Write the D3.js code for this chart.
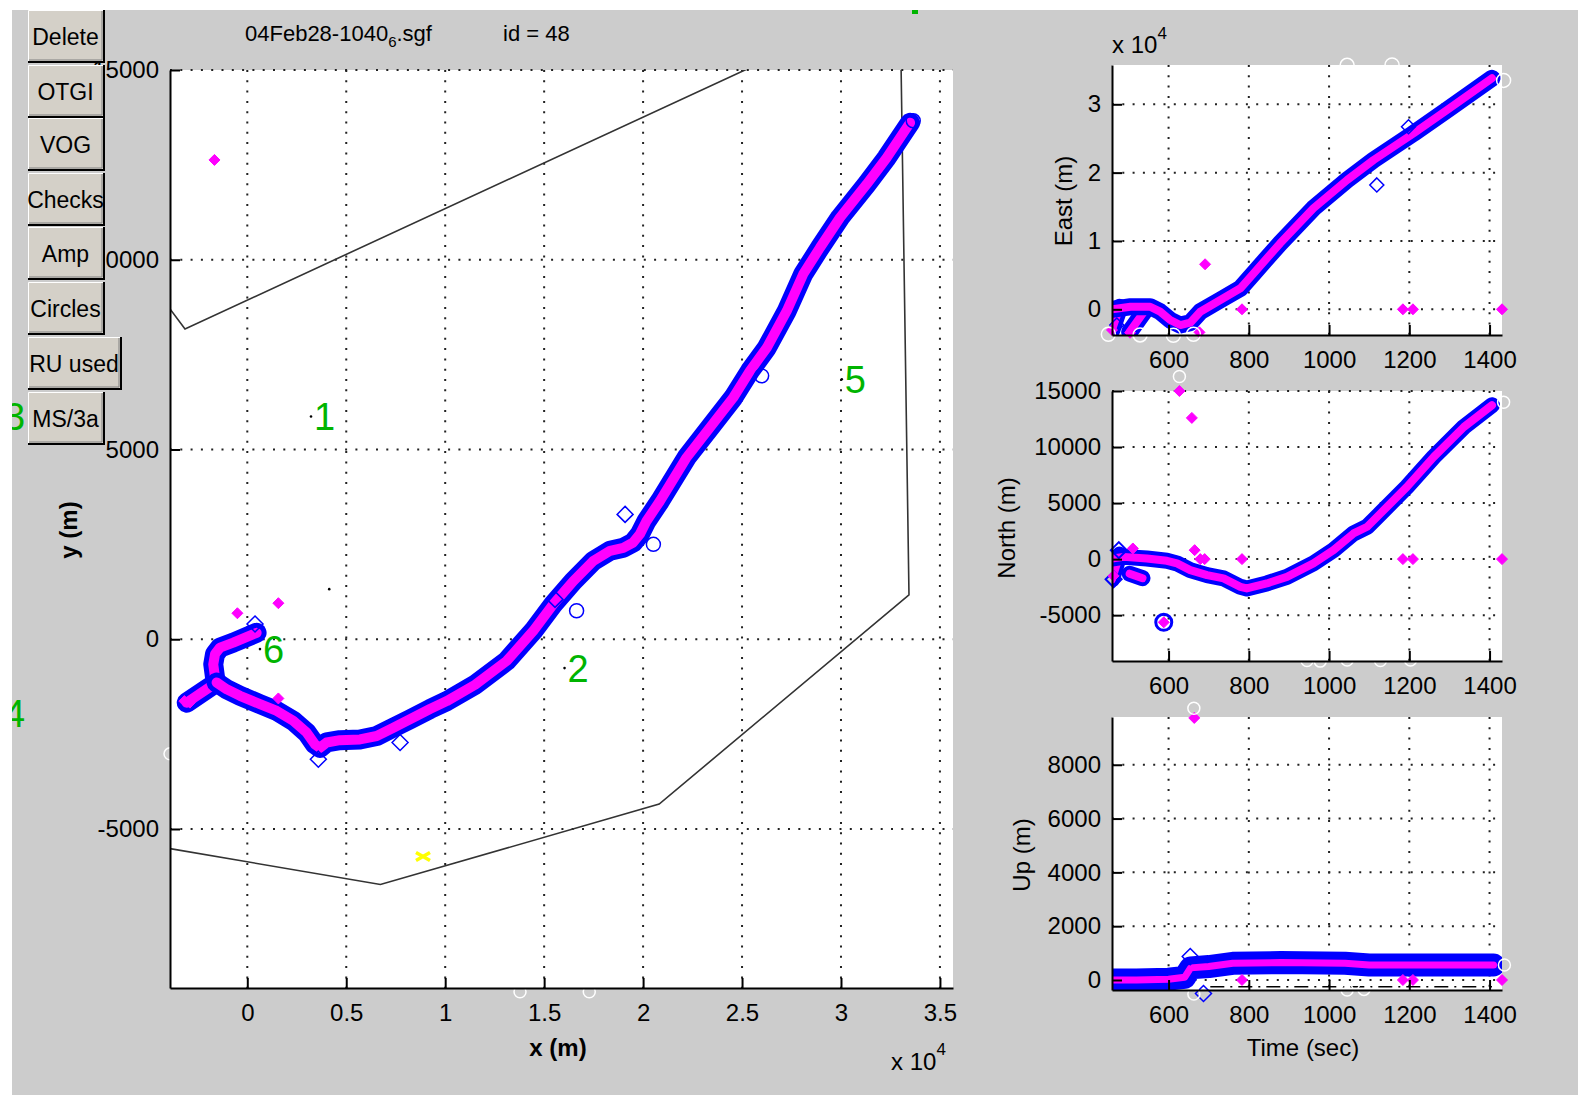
<!DOCTYPE html>
<html><head><meta charset="utf-8">
<script src="https://cdn.jsdelivr.net/npm/d3@7"></script>
<style>
body{margin:0;background:#fff;}
svg{display:block;}
text{font-family:"Liberation Sans",Arial,sans-serif;fill:#000;}
</style>
</head><body>
<svg id="fig" width="1578" height="1095"></svg>
<script>
// ---------------- DATA ----------------
const titleMain = "04Feb28-1040", titleSub = "6", titleExt = ".sgf", titleId = "id = 48";
const buttonLabels = ["Delete","OTGI","VOG","Checks","Amp","Circles","RU used","MS/3a"];

// main x-y map
const mainXTicks = [0,5000,10000,15000,20000,25000,30000,35000];
const mainXTickLabels = ["0","0.5","1","1.5","2","2.5","3","3.5"];
const mainYTicks = [-5000,0,5000,10000,15000];
const mainYTickLabels = ["-5000","0","5000","10000","15000"];

const trackEarlyX = [-3060,-1550,-1630,-1720,-1630,-1380,-710,470];
const trackEarlyY = [-1670,-1140,-1010,-660,-390,-220,-90,170];
const trackMainX = [-1550,-1040,-370,640,1490,2320,3000,3420,3670,4010,4680,5690,6540,7380,8220,9230,10080,11510,13110,14450,15460,16470,17480,18330,19000,19500,19840,20180,20850,22200,23380,24560,25400,26250,27260,28090,28940,29950,31300,32310,33490];
const trackMainY = [-1140,-1320,-1490,-1710,-1890,-2150,-2460,-2770,-2860,-2720,-2660,-2640,-2550,-2330,-2110,-1840,-1630,-1200,-570,220,920,1530,2060,2330,2410,2550,2770,3120,3640,4790,5580,6370,7070,7680,8650,9620,10320,11110,11990,12690,13610];

const boundaryX = [-3906,-3148,25150,27500,33010,33436,20813,6726,-3906];
const boundaryY = [8704,8177,15000,15570,16000,1167,-4343,-6464,-5517];

const mainMagentaX = [-1660,-500,1570,1570,-3180,-2900];
const mainMagentaY = [12630,685,950,-1560,-1630,-1670];
const mainBlueDiamondX = [19090,7720,15550,390,3590];
const mainBlueDiamondY = [3290,-2720,1050,400,-3160];
const mainBlueCircleX = [20520,16640,25990,33650];
const mainBlueCircleY = [2500,750,6940,13660];
const mainWhiteX = [-3906,13780,17280];
const mainWhiteY = [-3020,-9290,-9290];
const mainDotX = [3220,16030,30040,640,4140];
const mainDotY = [5870,-760,6850,-260,1320];
const yellowX = [8878], yellowY = [-5723];

const waypointLabels = ["1","2","3","4","5","6"];
const waypointX = [3220,16030,-12450,-12450,30040,640];
const waypointY = [5870,-760,5884,-1940,6850,-260];

// time panels
const timeTicks = [600,800,1000,1200,1400];
const eastTicks = [0,10000,20000,30000];
const eastTickLabels = ["0","1","2","3"];
const northTicks = [-5000,0,5000,10000,15000];
const upTicks = [0,2000,4000,6000,8000];

const timeE = [459,505,554,579,604,629,654,679,729,779,812,878,961,1045,1111,1211,1294,1406];
const eastVals = [0,380,380,-350,-1570,-2300,-1960,-350,1360,3070,5270,9660,14780,18920,21850,25760,29170,33810];
const timeE1 = [459,478], eastE1 = [-3000,300];
const timeE2 = [503,542], eastE2 = [-3300,-100];
const eastMagT = [691,783,1184,1209,1431,677,459,504];
const eastMagV = [6590,0,0,0,0,-3370,-3030,-3420];
const eastBlueT = [1198,1119,471];
const eastBlueV = [26720,18200,-2300];
const eastWhiteT = [1045,1157,1435,450,529,612,662];
const eastWhiteV = [35700,35750,33500,-3650,-3750,-3800,-3650];

const timeN = [459,488,546,596,621,654,696,737,779,795,845,895,961,1011,1061,1095,1128,1194,1261,1336,1406];
const northVals = [60,200,60,-150,-380,-980,-1430,-1720,-2470,-2620,-2170,-1580,-380,800,2290,2890,4070,6440,9120,11790,13730];
const timeN1 = [459,478], northN1 = [-1800,400];
const timeN2 = [503,535], northN2 = [-1300,-1700];
const northMagT = [627,658,511,665,679,690,783,1184,1209,1431,588,463];
const northMagV = [15000,12600,950,800,0,0,0,0,0,0,-5640,-1500];
const northBlueCircT = [588], northBlueCircV = [-5640];
const northBlueDiaT = [476,463], northBlueDiaV = [800,-1800];
const northWhiteT = [627,1435,945,978,1045,1128,1203];
const northWhiteV = [16300,14000,-9050,-9100,-9000,-9050,-9000];

const timeU = [459,520,600,640,655,700,760,880,1040,1100,1410];
const upVals = [0,0,30,100,450,500,620,650,620,560,560];
const upMagT = [664,783,1184,1209,1431];
const upMagV = [9740,0,0,0,0];
const upBlueT = [654,687], upBlueV = [870,-500];
const upWhiteT = [663,1437,1045,1087,663];
const upWhiteV = [10100,560,-370,-350,-520];
const upDashT = [704,1406], upDashV = [-250,-250];

// ---------------- DRAW ----------------
const W = 1578, H = 1095;
const svg = d3.select("#fig");
const defs = svg.append("defs");
defs.append("clipPath").attr("id","figclip").append("rect")
  .attr("x",12).attr("y",10).attr("width",W-12).attr("height",H-10);
svg.append("rect").attr("width",W).attr("height",H).attr("fill","#fff");
const fig = svg.append("g").attr("clip-path","url(#figclip)");
fig.append("rect").attr("x",12).attr("y",10).attr("width",W-12).attr("height",H-10).attr("fill","#cccccc");

const diamondPath = r => `M0,${-r}L${r},0L0,${r}L${-r},0Z`;
let clipCount = 0;

function makeAxes(c){
  const x = d3.scaleLinear().domain(c.xDomain).range([c.left,c.right]);
  const y = d3.scaleLinear().domain(c.yDomain).range([c.bottom,c.top]);
  const g = fig.append("g");
  g.append("rect").attr("x",c.left).attr("y",c.top).attr("width",c.right-c.left)
    .attr("height",c.bottom-c.top).attr("fill","#fff");
  const grid = g.append("g").attr("stroke","#222").attr("stroke-width",2)
    .attr("stroke-dasharray","2,8.3");
  grid.selectAll(".gx").data(c.xTicks).join("line")
    .attr("x1",d=>x(d)).attr("x2",d=>x(d)).attr("y1",c.top).attr("y2",c.bottom);
  grid.selectAll(".gy").data(c.yTicks).join("line")
    .attr("y1",d=>y(d)).attr("y2",d=>y(d)).attr("x1",c.left).attr("x2",c.right);
  const id = "pc"+(clipCount++);
  defs.append("clipPath").attr("id",id).append("rect")
    .attr("x",c.left).attr("y",c.top).attr("width",c.right-c.left).attr("height",c.bottom-c.top);
  const data = g.append("g").attr("clip-path",`url(#${id})`);
  const marks = g.append("g");
  const ax = g.append("g");
  const xa = ax.append("g").attr("transform",`translate(0,${c.bottom})`)
    .call(d3.axisBottom(x).tickValues(c.xTicks).tickFormat((d,i)=>c.xLabels[i])
      .tickSizeInner(-10).tickSizeOuter(0).tickPadding(16));
  const ya = ax.append("g").attr("transform",`translate(${c.left},0)`)
    .call(d3.axisLeft(y).tickValues(c.yTicks).tickFormat((d,i)=>c.yLabels[i])
      .tickSizeInner(-10).tickSizeOuter(0).tickPadding(11));
  [xa,ya].forEach(a=>{
    a.select(".domain").attr("stroke","#000").attr("stroke-width",2);
    a.selectAll(".tick line").attr("stroke","#000").attr("stroke-width",2);
    a.selectAll(".tick text").attr("font-size",24).attr("fill","#000")
      .attr("font-family","Liberation Sans, Arial, sans-serif");
  });
  return {x,y,data,marks,ax};
}

function band(P, xs, ys, wBlue, wMag){
  const pts = d3.zip(xs, ys);
  const line = d3.line().x(d=>P.x(d[0])).y(d=>P.y(d[1]));
  P.data.append("path").attr("d",line(pts)).attr("fill","none").attr("stroke","#0000ff")
    .attr("stroke-width",wBlue).attr("stroke-linejoin","round").attr("stroke-linecap","round");
  P.data.append("path").attr("d",line(pts)).attr("fill","none").attr("stroke","#ff00ff")
    .attr("stroke-width",wMag).attr("stroke-linejoin","round").attr("stroke-linecap","round");
}
function diamonds(P, xs, ys, r, fill, stroke, sw){
  P.marks.append("g").selectAll("path").data(d3.zip(xs,ys)).join("path")
    .attr("d",diamondPath(r)).attr("transform",d=>`translate(${P.x(d[0])},${P.y(d[1])})`)
    .attr("fill",fill).attr("stroke",stroke).attr("stroke-width",sw||1.5);
}
function circles(P, xs, ys, r, stroke, sw){
  P.marks.append("g").selectAll("circle").data(d3.zip(xs,ys)).join("circle")
    .attr("cx",d=>P.x(d[0])).attr("cy",d=>P.y(d[1])).attr("r",r)
    .attr("fill","none").attr("stroke",stroke).attr("stroke-width",sw||1.5);
}

// ---- main map ----
const M = makeAxes({left:170,top:70,right:953,bottom:988,
  xDomain:[-3906,35660], yDomain:[-9190,15000],
  xTicks:mainXTicks, xLabels:mainXTickLabels, yTicks:mainYTicks, yLabels:mainYTickLabels});
M.data.append("path").attr("d",d3.line().x(d=>M.x(d[0])).y(d=>M.y(d[1]))(d3.zip(boundaryX,boundaryY)))
  .attr("fill","none").attr("stroke","#333").attr("stroke-width",1.6);
band(M, trackEarlyX, trackEarlyY, 20, 10);
band(M, trackMainX, trackMainY, 20, 10);
diamonds(M, mainBlueDiamondX, mainBlueDiamondY, 8, "none", "#0000ff", 1.5);
circles(M, mainBlueCircleX, mainBlueCircleY, 7, "#0000ff", 1.5);
diamonds(M, mainMagentaX, mainMagentaY, 5.5, "#ff00ff", "#ff00ff", 1);
M.marks.append("g").selectAll("circle").data(d3.zip(mainDotX,mainDotY)).join("circle")
  .attr("cx",d=>M.x(d[0])).attr("cy",d=>M.y(d[1])).attr("r",1.3).attr("fill","#000");
circles(M, mainWhiteX, mainWhiteY, 6, "#fff", 1.5);
// yellow x marker
M.marks.append("g").selectAll("path").data(d3.zip(yellowX,yellowY)).join("path")
  .attr("transform",d=>`translate(${M.x(d[0])},${M.y(d[1])})`)
  .attr("d","M-7,-4L7,4M-7,4L7,-4").attr("stroke","#ffff00").attr("stroke-width",3.5);
// waypoint labels
fig.append("g").selectAll("text").data(waypointLabels).join("text")
  .attr("x",(d,i)=>M.x(waypointX[i])+3).attr("y",(d,i)=>M.y(waypointY[i]))
  .attr("dy","0.36em").attr("font-size",38).style("fill","#00b400").text(d=>d);
// tiny clipped green mark at top
fig.append("rect").attr("x",912).attr("y",10).attr("width",6).attr("height",4).attr("fill","#00b400");

// main axis labels
fig.append("text").attr("x",558).attr("y",1056).attr("text-anchor","middle")
  .attr("font-size",24).attr("font-weight","bold").text("x (m)");
fig.append("text").attr("transform","translate(77,530) rotate(-90)").attr("text-anchor","middle")
  .attr("font-size",24).attr("font-weight","bold").text("y (m)");
const mx = fig.append("text").attr("x",891).attr("y",1070).attr("font-size",24);
mx.append("tspan").text("x 10");
mx.append("tspan").attr("dy",-15).attr("font-size",17).text("4");

// ---- right panels ----
const PL = 1112, PR = 1502;
const E = makeAxes({left:PL,top:65,right:PR,bottom:335, xDomain:[459,1431], yDomain:[-3760,35750],
  xTicks:timeTicks, xLabels:timeTicks.map(String), yTicks:eastTicks, yLabels:eastTickLabels});
band(E, timeE1, eastE1, 17, 8);
band(E, timeE2, eastE2, 17, 8);
band(E, timeE, eastVals, 17, 8);
diamonds(E, eastBlueT, eastBlueV, 7, "none", "#0000ff", 1.5);
diamonds(E, eastMagT, eastMagV, 5.5, "#ff00ff", "#ff00ff", 1);
circles(E, eastWhiteT, eastWhiteV, 7, "#fff", 1.5);
const ex = fig.append("text").attr("x",1112).attr("y",53).attr("font-size",24);
ex.append("tspan").text("x 10");
ex.append("tspan").attr("dy",-14).attr("font-size",17).text("4");
fig.append("text").attr("transform","translate(1072,201) rotate(-90)").attr("text-anchor","middle")
  .attr("font-size",24).text("East (m)");

const N = makeAxes({left:PL,top:391,right:PR,bottom:661, xDomain:[459,1431], yDomain:[-9090,15000],
  xTicks:timeTicks, xLabels:timeTicks.map(String), yTicks:northTicks, yLabels:northTicks.map(String)});
band(N, timeN1, northN1, 16, 8);
band(N, timeN2, northN2, 16, 8);
band(N, timeN, northVals, 16, 8);
circles(N, northBlueCircT, northBlueCircV, 8, "#0000ff", 3);
diamonds(N, northBlueDiaT, northBlueDiaV, 8, "none", "#0000ff", 2);
diamonds(N, northMagT, northMagV, 5.5, "#ff00ff", "#ff00ff", 1);
circles(N, northWhiteT, northWhiteV, 6, "#fff", 1.5);
fig.append("text").attr("transform","translate(1015,528) rotate(-90)").attr("text-anchor","middle")
  .attr("font-size",24).text("North (m)");

const U = makeAxes({left:PL,top:717,right:PR,bottom:990, xDomain:[459,1431], yDomain:[-372,9775],
  xTicks:timeTicks, xLabels:timeTicks.map(String), yTicks:upTicks, yLabels:upTicks.map(String)});
U.data.append("path").attr("d",d3.line().x(d=>U.x(d[0])).y(d=>U.y(d[1]))(d3.zip(upDashT,upDashV)))
  .attr("fill","none").attr("stroke","#000").attr("stroke-width",1.5).attr("stroke-dasharray","14,6,2,6");
band(U, timeU, upVals, 23, 7);
diamonds(U, upBlueT, upBlueV, 8, "none", "#0000ff", 1.5);
diamonds(U, upMagT, upMagV, 5.5, "#ff00ff", "#ff00ff", 1);
circles(U, upWhiteT, upWhiteV, 6, "#fff", 1.5);
fig.append("text").attr("transform","translate(1030,855) rotate(-90)").attr("text-anchor","middle")
  .attr("font-size",24).text("Up (m)");
fig.append("text").attr("x",1303).attr("y",1056).attr("text-anchor","middle")
  .attr("font-size",24).text("Time (sec)");

// ---- title ----
const tt = fig.append("text").attr("x",245).attr("y",41).attr("font-size",22);
tt.append("tspan").text(titleMain);
tt.append("tspan").attr("font-size",15).attr("dy",6).text(titleSub);
tt.append("tspan").attr("dy",-6).text(titleExt);
fig.append("text").attr("x",503).attr("y",41).attr("font-size",22).text(titleId);

// ---- buttons ----
const btnTop = [10,65,118,173,227,282,337,392];
const btnW = [77,77,77,77,77,77,94,77];
const bg = fig.append("g");
buttonLabels.forEach((lab,i)=>{
  const x0 = 28, y0 = btnTop[i], w = btnW[i], h = 53;
  const b = bg.append("g");
  b.append("rect").attr("x",x0).attr("y",y0).attr("width",w).attr("height",h).attr("fill","#d4d0c8");
  b.append("path").attr("d",`M${x0+0.5},${y0+h}V${y0+0.5}H${x0+w}`).attr("stroke","#fff").attr("fill","none").attr("stroke-width",1);
  b.append("path").attr("d",`M${x0},${y0+h-1}H${x0+w-1}V${y0}`).attr("stroke","#000").attr("fill","none").attr("stroke-width",2);
  b.append("path").attr("d",`M${x0+1},${y0+h-3}H${x0+w-3}V${y0+1}`).attr("stroke","#808080").attr("fill","none").attr("stroke-width",1);
  b.append("text").attr("x",x0+w/2-1).attr("y",y0+h/2).attr("dy","0.36em").attr("text-anchor","middle")
    .attr("font-size",23).text(lab);
});
</script>
</body></html>
